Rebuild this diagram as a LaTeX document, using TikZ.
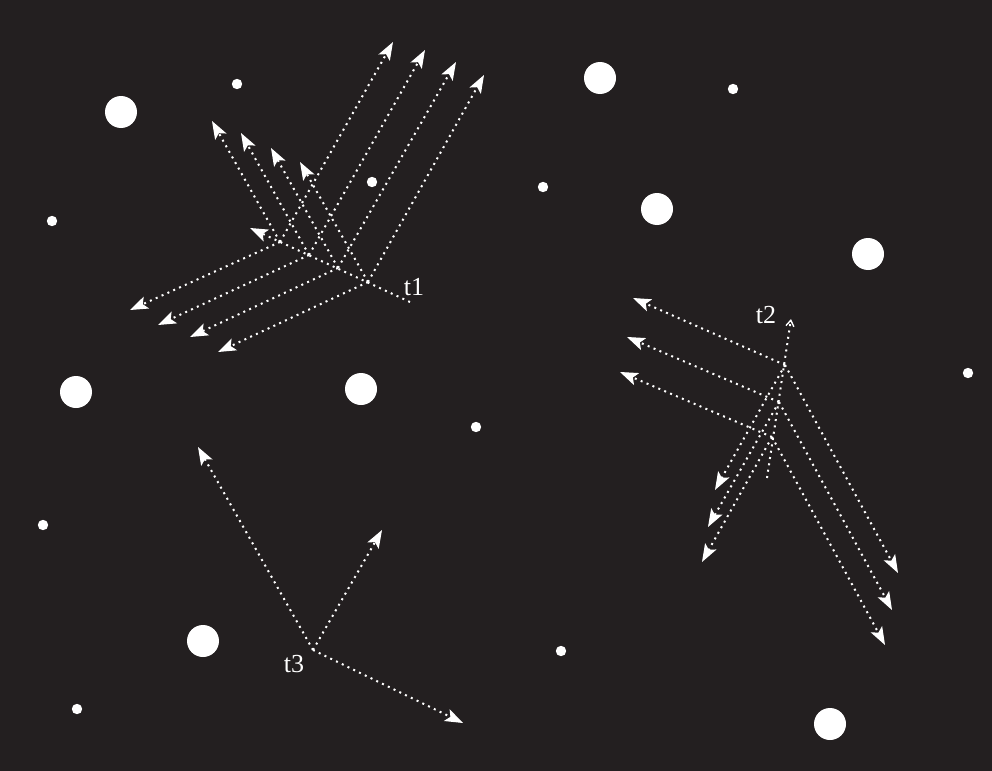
\documentclass[tikz,border=0pt]{standalone}
\usepackage{fontspec}
\setmainfont{Liberation Serif}
\usetikzlibrary{arrows.meta}
\definecolor{bg}{HTML}{231F20}
\begin{document}
\begin{tikzpicture}[x=0.5pt,y=-0.5pt,
  ray/.style={white, line width=1pt, dash pattern=on 1pt off 2.2pt,
    -{Stealth[length=9pt,width=6.5pt,inset=2pt,fill=white,line width=0.6pt]}},
  axisline/.style={white, line width=1pt, dash pattern=on 1pt off 2.2pt},
  smalltip/.style={-{Straight Barb[length=3pt,width=4pt,line width=0.7pt]}},
  lbl/.style={text=white, font=\fontsize{13}{15}\selectfont, inner sep=0pt}]
\fill[bg] (0,0) rectangle (992,771);
\useasboundingbox (0,0) rectangle (992,771);
% stars
\foreach \p in {(121,112),(600,78),(657,209),(868,254),(76,392),(361,389),(203,641),(830,724)}
  \fill[white] \p circle (8pt);
\foreach \p in {(237,84),(372,182),(52,221),(543,187),(733,89),(968,373),(476,427),(43,525),(561,651),(77,709)}
  \fill[white] \p circle (2.6pt);
% ---------- t1 ----------
\coordinate (e1) at (410,302);
\coordinate (a1) at (250,228);
\coordinate (p1) at (280,242);
\coordinate (p2) at (309,255);
\coordinate (p3) at (338,268);
\coordinate (p4) at (368,282);
\coordinate (u1) at (393,42);
\coordinate (u2) at (425,50);
\coordinate (u3) at (456,62);
\coordinate (u4) at (484,75);
\coordinate (l1) at (212,121);
\coordinate (l2) at (241,133);
\coordinate (l3) at (271,148);
\coordinate (l4) at (300,162);
\coordinate (d1) at (130,310);
\coordinate (d2) at (158,325);
\coordinate (d3) at (190,337);
\coordinate (d4) at (218,352);
\draw[ray] (e1) -- (a1);
\foreach \i in {1,2,3,4} {
  \draw[ray] (p\i) -- (u\i);
  \draw[ray] (p\i) -- (l\i);
  \draw[ray] (p\i) -- (d\i);
}
\node[lbl] (t1) at (414,287) {t1};
% ---------- t2 ----------
\coordinate (b2) at (767,478);
\coordinate (a2) at (791,319);
\coordinate (q1) at (785,365);
\coordinate (q2) at (779,402);
\coordinate (q3) at (772,437);
\coordinate (v1) at (633,298);
\coordinate (v2) at (627,337);
\coordinate (v3) at (620,372);
\coordinate (w1) at (715,490);
\coordinate (w2) at (708,527);
\coordinate (w3) at (702,562);
\coordinate (r1) at (898,573);
\coordinate (r2) at (892,610);
\coordinate (r3) at (885,645);
\draw[axisline, smalltip] (b2) -- (a2);
\foreach \i in {1,2,3} {
  \draw[ray] (q\i) -- (v\i);
  \draw[ray] (q\i) -- (w\i);
  \draw[ray] (q\i) -- (r\i);
}
\node[lbl] (t2) at (766,315) {t2};
% ---------- t3 ----------
\coordinate (o3) at (313,650);
\coordinate (x1) at (198,447);
\coordinate (x2) at (382,530);
\coordinate (x3) at (463,723);
\draw[ray] (o3) -- (x1);
\draw[ray] (o3) -- (x2);
\draw[ray] (o3) -- (x3);
\node[lbl] (t3) at (294,664) {t3};
\end{tikzpicture}
\end{document}
